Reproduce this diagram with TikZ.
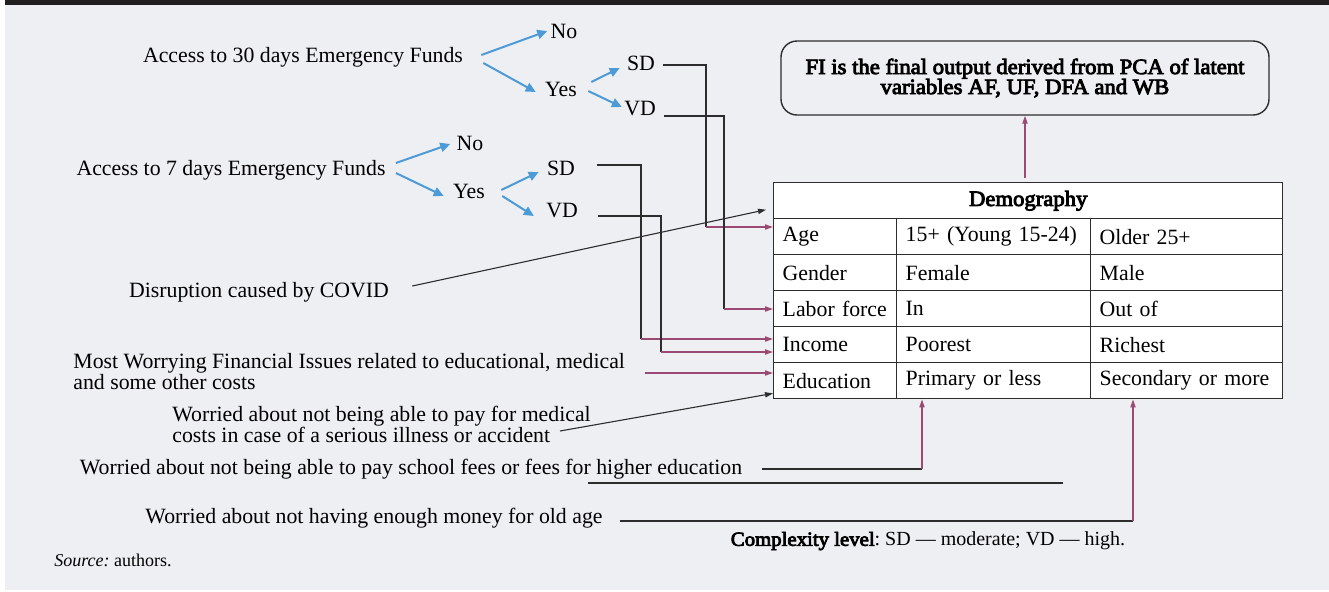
\documentclass[tikz,border=0pt]{standalone}
\usepackage{fontspec}
\setmainfont{Liberation Serif}[BoldFont={Liberation Serif}, BoldFeatures={FakeBold=4, FakeStretch=1.04}]
\usepackage{xcolor}
\usepackage{tikz}
\usetikzlibrary{arrows.meta, positioning}
\definecolor{bgcolor}{RGB}{238,239,243}
\definecolor{bandcolor}{RGB}{32,30,30}
\definecolor{arrowblue}{RGB}{76,154,214}
\definecolor{linkmagenta}{RGB}{155,75,115}
\definecolor{linegray}{RGB}{45,45,45}
\frenchspacing

\begin{document}
\begin{tikzpicture}[
    x=0.5pt, y=-0.5pt,
    every node/.style={font=\fontsize{10.9}{10.5}\selectfont, inner sep=1.5pt},
    question/.style={align=left},
    branch/.style={draw=arrowblue, line width=1pt, -{Triangle[length=5pt,width=4.6pt]}},
    link/.style={draw=linegray, line width=0.55pt},
    feed/.style={draw=linkmagenta, line width=0.65pt, -{Triangle[length=4pt,width=2.6pt]}},
    pointer/.style={draw=linegray, line width=0.55pt, -{Triangle[length=4pt,width=2.6pt]}},
    cell/.style={draw=linegray, line width=0.7pt, fill=white, anchor=north west, minimum height=18pt, inner xsep=4.5pt, text width=#1},
    outbox/.style={draw=linegray, line width=0.7pt, rounded corners=8pt, minimum width=244pt, minimum height=37pt, align=center, font=\bfseries\fontsize{10.9}{10}\selectfont}
]
    % Page
    \useasboundingbox (0,0) rectangle (1329,591);
    \fill[white] (0,0) rectangle (1329,591);
    \fill[bgcolor] (5,5) rectangle (1329,590);
    \fill[bandcolor] (5,0) rectangle (1329,5);

    % Access to 30 days
    \node (acc30) at (303,57) {Access to 30 days Emergency Funds};
    \node (no30) at (564,31) {No};
    \node (yes30) at (561,89) {Yes};
    \node (sd30) at (641,63) {SD};
    \node (vd30) at (640,109) {VD};
    \draw[branch] ([shift={(15,-2)}]acc30.east) -- (no30.west);
    \draw[branch] ([shift={(17,6)}]acc30.east) -- ([shift={(-6,3)}]yes30.west);
    \draw[branch] ([shift={(11,-7)}]yes30.east) -- ([shift={(-4,5)}]sd30.west);
    \draw[branch] ([shift={(8,2)}]yes30.east) -- ([shift={(1,-2)}]vd30.west);

    % Access to 7 days
    \node (acc7) at (231,170) {Access to 7 days Emergency Funds};
    \node (no7) at (470,143) {No};
    \node (yes7) at (469,191) {Yes};
    \node (sd7) at (561,168) {SD};
    \node (vd7) at (562,211) {VD};
    \draw[branch] ([shift={(7,-7)}]acc7.east) -- ([shift={(-3,1)}]no7.west);
    \draw[branch] ([shift={(7,3)}]acc7.east) -- ([shift={(-6,5)}]yes7.west);
    \draw[branch] ([shift={(13,-1)}]yes7.east) -- ([shift={(-5,4)}]sd7.west);
    \draw[branch] ([shift={(14,5)}]yes7.east) -- ([shift={(-9,5)}]vd7.west);

    % Other questions
    \node (covid) at (259,292) {Disruption caused by COVID};
    \node[question, anchor=west] (most) at (70,372) {Most Worrying Financial Issues related to educational, medical\\and some other costs};
    \node[question, anchor=west] (medical) at (169,424) {Worried about not being able to pay for medical\\costs in case of a serious illness or accident};
    \node (school) at (411,469) {Worried about not being able to pay school fees or fees for higher education};
    \node (oldage) at (374,518) {Worried about not having enough money for old age};

    % Output box
    \node[outbox] (fibox) at (1025,78) {FI is the final output derived from PCA of latent\\variables AF, UF, DFA and WB};

    % Demography table
    \node[cell=245.5pt, align=center, font=\bfseries\fontsize{10.9}{10.5}\selectfont] (demog) at (773,182) {Demography};
    \node[cell=52.5pt] (age) at (773,218) {Age};
    \node[cell=88pt] (age2) at (896,218) {15+ (Young 15-24)};
    \node[cell=87pt] (age3) at (1090,218) {Older 25+};
    \node[cell=52.5pt] (gender) at (773,254) {Gender};
    \node[cell=88pt] (gender2) at (896,254) {Female};
    \node[cell=87pt] (gender3) at (1090,254) {Male};
    \node[cell=52.5pt] (labor) at (773,290) {\mbox{Labor force}};
    \node[cell=88pt] (labor2) at (896,290) {In};
    \node[cell=87pt] (labor3) at (1090,290) {Out of};
    \node[cell=52.5pt] (income) at (773,326) {Income};
    \node[cell=88pt] (income2) at (896,326) {Poorest};
    \node[cell=87pt] (income3) at (1090,326) {Richest};
    \node[cell=52.5pt] (educ) at (773,362) {Education};
    \node[cell=88pt] (primary) at (896,362) {Primary or less};
    \node[cell=87pt] (secondary) at (1090,362) {Secondary or more};

    % Notes
    \node[font=\fontsize{10}{12}\selectfont] (complexity) at (928,541) {\textbf{Complexity level}: SD — moderate; VD — high.};
    \node[anchor=west, font=\fontsize{9}{11}\selectfont] (source) at (51,560) {\textit{Source:} authors.};

    % Connections
    \coordinate (k1) at (706,227);
    \coordinate (k2) at (724,309);
    \coordinate (k3) at (641,339);
    \coordinate (k4) at (661,352);
    \coordinate (k5) at (645,373);
    \coordinate (k6) at (922,469);
    \coordinate (k7) at (1133,521);
    \coordinate (m1) at (560,431);
    \coordinate (s1) at (588,483);
    \coordinate (s2) at (1063,483);

    \draw[link] ([shift={(5,2)}]sd30.east) -| (k1);
    \draw[feed] (k1) -- (k1 -| age.west);
    \draw[link] ([shift={(5,7)}]vd30.east) -| (k2);
    \draw[feed] (k2) -- (k2 -| labor.west);
    \draw[link] ([shift={(19,-3)}]sd7.east) -| (k3);
    \draw[feed] (k3) -- (k3 -| income.west);
    \draw[link] ([shift={(17,5)}]vd7.east) -| (k4);
    \draw[feed] (k4) -- (k4 -| income.west);
    \draw[feed] (k5) -- (k5 -| educ.west);
    \draw[pointer] ([shift={(20,-6)}]covid.east) -- ([shift={(-7,9)}]demog.west);
    \draw[pointer] (m1) -- ([yshift=3pt]educ.south west);
    \draw[link] ([xshift=8pt]school.east) -- (k6);
    \draw[feed] (k6) -- (k6 |- primary.south);
    \draw[link] ([shift={(14,3)}]oldage.east) -- (k7);
    \draw[feed] (k7) -- (k7 |- secondary.south);
    \draw[link] (s1) -- (s2);
    \draw[feed] ([yshift=2pt]demog.north -| fibox.south) -- (fibox.south);
\end{tikzpicture}
\end{document}
